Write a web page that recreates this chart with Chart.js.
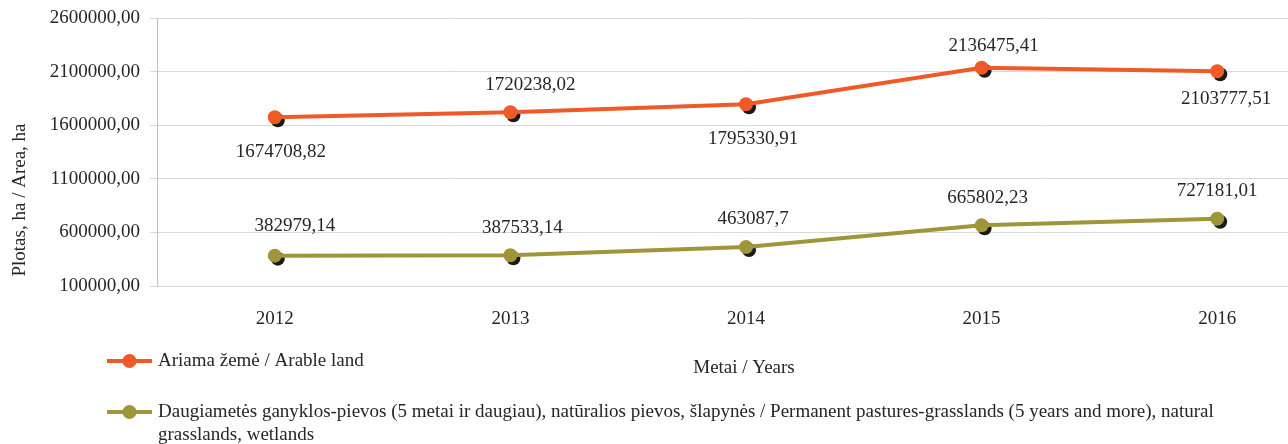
<!DOCTYPE html>
<html>
<head>
<meta charset="utf-8">
<title>Ariama žemė ir pievos</title>
<script src="https://cdn.jsdelivr.net/npm/chart.js@4.4.1/dist/chart.umd.min.js"></script>
<style>
  html, body { margin: 0; padding: 0; background: #fff; overflow: hidden; }
  #wrap { position: relative; width: 1342px; height: 444px; }
</style>
</head>
<body>
<div id="wrap"><canvas id="grafikas"></canvas></div>
<script>
const metai = ["2012", "2013", "2014", "2015", "2016"];
const ariama = [1674708.82, 1720238.02, 1795330.91, 2136475.41, 2103777.51];
const pievos = [382979.14, 387533.14, 463087.7, 665802.23, 727181.01];
const yZymes = [100000, 600000, 1100000, 1600000, 2100000, 2600000];

const pavadinimai = [
  "Ariama žemė / Arable land",
  "Daugiametės ganyklos-pievos (5 metai ir daugiau), natūralios pievos, šlapynės / Permanent pastures-grasslands (5 years and more), natural grasslands, wetlands"
];

const SRIFTAS = '"Liberation Serif", "Times New Roman", serif';
const TEKSTAS = "#262626";

// kur padėti reikšmių užrašus (poslinkis nuo taško)
const poslinkiai = [
  [[6, 35], [20, -27], [7, 35], [12, -22], [9, 28]],
  [[20, -30], [12, -27], [7, -28], [6, -27], [0, -28]]
];

const kableliu = v => String(v).replace(".", ",");

// juodas šešėlis po taškais
const seseliai = {
  id: "seseliai",
  beforeDatasetsDraw(chart) {
    const ctx = chart.ctx;
    ctx.save();
    ctx.fillStyle = "#1a1a1a";
    chart.data.datasets.forEach((ds, i) => {
      chart.getDatasetMeta(i).data.forEach(el => {
        ctx.beginPath();
        ctx.arc(el.x + 3, el.y + 3, 7, 0, Math.PI * 2);
        ctx.fill();
      });
    });
    ctx.restore();
  }
};

const reiksmes = {
  id: "reiksmes",
  afterDatasetsDraw(chart) {
    const ctx = chart.ctx;
    ctx.save();
    ctx.font = "19px " + SRIFTAS;
    ctx.fillStyle = TEKSTAS;
    ctx.textAlign = "center";
    ctx.textBaseline = "middle";
    chart.data.datasets.forEach((ds, i) => {
      chart.getDatasetMeta(i).data.forEach((el, j) => {
        const [dx, dy] = poslinkiai[i][j];
        ctx.fillText(kableliu(ds.data[j]), el.x + dx, el.y + dy);
      });
    });
    ctx.restore();
  }
};

// ašių pavadinimai ir legenda
function laužytiEilutes(ctx, tekstas, plotis) {
  const zodziai = tekstas.split(" ");
  const eil = [];
  let dabar = "";
  zodziai.forEach(z => {
    const bandymas = dabar ? dabar + " " + z : z;
    if (ctx.measureText(bandymas).width > plotis && dabar) {
      eil.push(dabar);
      dabar = z;
    } else {
      dabar = bandymas;
    }
  });
  if (dabar) eil.push(dabar);
  return eil;
}

const uzrasai = {
  id: "uzrasai",
  afterDraw(chart) {
    const ctx = chart.ctx;
    ctx.save();
    ctx.font = "19px " + SRIFTAS;
    ctx.fillStyle = TEKSTAS;
    ctx.textBaseline = "middle";

    ctx.save();
    ctx.translate(20, 200);
    ctx.rotate(-Math.PI / 2);
    ctx.textAlign = "center";
    ctx.fillText("Plotas, ha / Area, ha", 0, 0);
    ctx.restore();

    ctx.textAlign = "center";
    ctx.fillText("Metai / Years", 744, 368);

    const virsus = [361, 412];
    chart.data.datasets.forEach((ds, i) => {
      const y = virsus[i];
      ctx.strokeStyle = ds.borderColor;
      ctx.lineWidth = 4;
      ctx.beginPath();
      ctx.moveTo(107, y);
      ctx.lineTo(152, y);
      ctx.stroke();
      ctx.fillStyle = ds.borderColor;
      ctx.beginPath();
      ctx.arc(129.5, y, 7, 0, Math.PI * 2);
      ctx.fill();

      ctx.fillStyle = TEKSTAS;
      ctx.textAlign = "left";
      laužytiEilutes(ctx, ds.label, 1115).forEach((e, k) => {
        ctx.fillText(e, 158, y + k * 23);
      });
    });
    ctx.restore();
  }
};

Chart.defaults.font.family = SRIFTAS;
Chart.defaults.font.size = 19;
Chart.defaults.color = TEKSTAS;

new Chart(document.getElementById("grafikas"), {
  type: "line",
  data: {
    labels: metai,
    datasets: [
      {
        label: pavadinimai[0],
        data: ariama,
        borderColor: "#f05a28",
        backgroundColor: "#f05a28",
        pointBackgroundColor: "#f05a28"
      },
      {
        label: pavadinimai[1],
        data: pievos,
        borderColor: "#9f953b",
        backgroundColor: "#9f953b",
        pointBackgroundColor: "#9f953b"
      }
    ]
  },
  options: {
    responsive: true,
    maintainAspectRatio: false,
    animation: false,
    layout: { padding: { top: 18, right: 2, left: 0, bottom: 0 } },
    elements: {
      line: { borderWidth: 4, tension: 0 },
      point: { radius: 7, borderWidth: 0, hoverRadius: 7 }
    },
    plugins: {
      legend: { display: false },
      tooltip: { enabled: false }
    },
    scales: {
      x: {
        offset: true,
        grid: { display: false, drawTicks: false },
        border: { display: false },
        ticks: { padding: 22 },
        afterFit: s => { s.height = 158; }
      },
      y: {
        min: yZymes[0],
        max: yZymes[yZymes.length - 1],
        afterBuildTicks: s => { s.ticks = yZymes.map(v => ({ value: v })); },
        grid: { color: "#d9d9d9", tickLength: 7 },
        border: { color: "#bfbfbf" },
        ticks: {
          padding: 10,
          callback: v => v.toFixed(2).replace(".", ",")
        },
        afterFit: s => {
          s.width = 157;
          s.paddingTop = 0;
          s.paddingBottom = 0;
        }
      }
    }
  },
  plugins: [seseliai, reiksmes, uzrasai]
});
</script>
</body>
</html>
